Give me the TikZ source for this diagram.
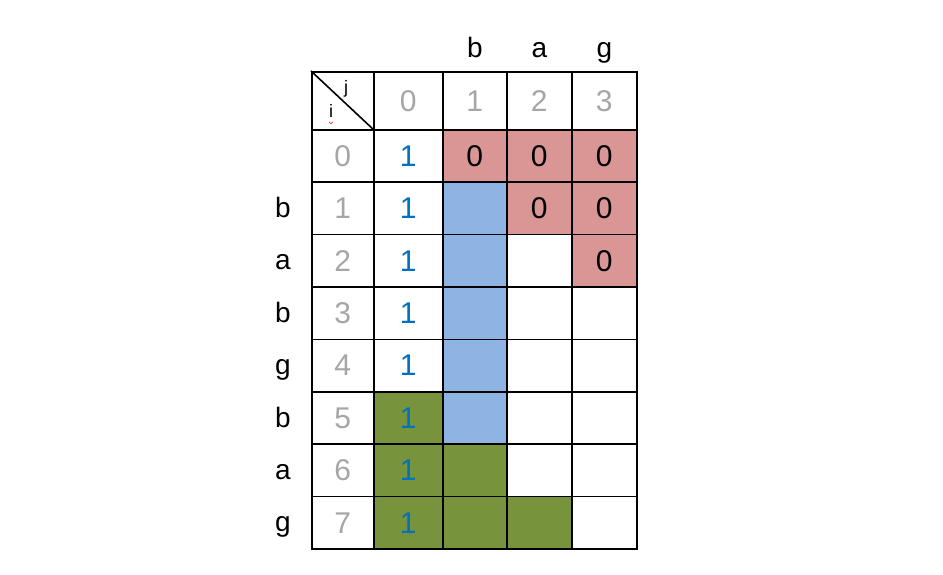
\documentclass[tikz,border=0pt]{standalone}
\usepackage{fontspec}
\setmainfont{Liberation Sans}
\usetikzlibrary{positioning}
\definecolor{idxgrey}{HTML}{A6A6A6}
\definecolor{onesblue}{HTML}{0070C0}
\definecolor{zerored}{HTML}{D99694}
\definecolor{pathblue}{HTML}{8EB4E3}
\definecolor{pathgreen}{HTML}{77933C}
\begin{document}
\begin{tikzpicture}
[
x=1pt,y=-1pt,
cell/.style={draw,line width=1.6pt,anchor=north west,inner sep=0pt,
            minimum width=#1,minimum height=52.4pt,
            font=\fontsize{30}{30}\selectfont},
idx/.style={text=idxgrey},
letter/.style={inner sep=0pt,anchor=base,font=\fontsize{28}{28}\selectfont},
small/.style={inner sep=0pt,font=\fontsize{18}{18}\selectfont},
]
\useasboundingbox (0,0) rectangle (943,574);

%Place the header row
\node[cell=62,minimum height=58pt] (h-i) at (311,71) {};
\foreach \c/\x/\w in {0/373/69,1/442/64,2/506/65,3/571/65}
  \node[cell=\w,minimum height=58pt,idx] (h-\c) at (\x,71) {\c};

%Place the index column
\foreach \r in {0,...,7}
  \node[cell=62,idx] (i-\r) at (311,{129+52.4*\r}) {\r};

%Place the table body
\foreach \r in {0,...,7}{
  \foreach \c/\x/\w in {0/373/69,1/442/64,2/506/65,3/571/65}{
    \pgfmathtruncatemacro{\d}{\r-\c}
    \def\cc{white}
    \ifnum\c=1 \ifnum\r>0 \def\cc{pathblue}\fi\fi
    \ifnum\d>4 \def\cc{pathgreen}\fi
    \ifnum\d<0 \def\cc{zerored}\fi
    \node[cell=\w,fill=\cc] (c-\r-\c) at (\x,{129+52.4*\r})
      {\ifnum\c=0 \textcolor{onesblue}{1}\else\ifnum\d<0 0\fi\fi};
  }
}

%Corner cell
\draw[line width=1.6pt] (h-i.north west) -- (h-i.south east);
\node[small] (lab-j) at (346,89) {j};
\node[small] (lab-i) at (331,111) {i};
\draw[red,line width=0.6pt] ([xshift=-2pt,yshift=-4pt]lab-i.south) -- ([yshift=-6pt]lab-i.south) -- ([xshift=2pt,yshift=-4pt]lab-i.south);

%Place the letters
\foreach \c/\t in {1/b,2/a,3/g}
  \node[letter] (top-\c) at ([yshift=14pt]h-\c.north) {\t};
\foreach \r/\t in {1/b,2/a,3/b,4/g,5/b,6/a,7/g}
  \node[letter] (left-\r) at ([xshift=-28pt,yshift=-9pt]i-\r.west) {\t};
\end{tikzpicture}
\end{document}
